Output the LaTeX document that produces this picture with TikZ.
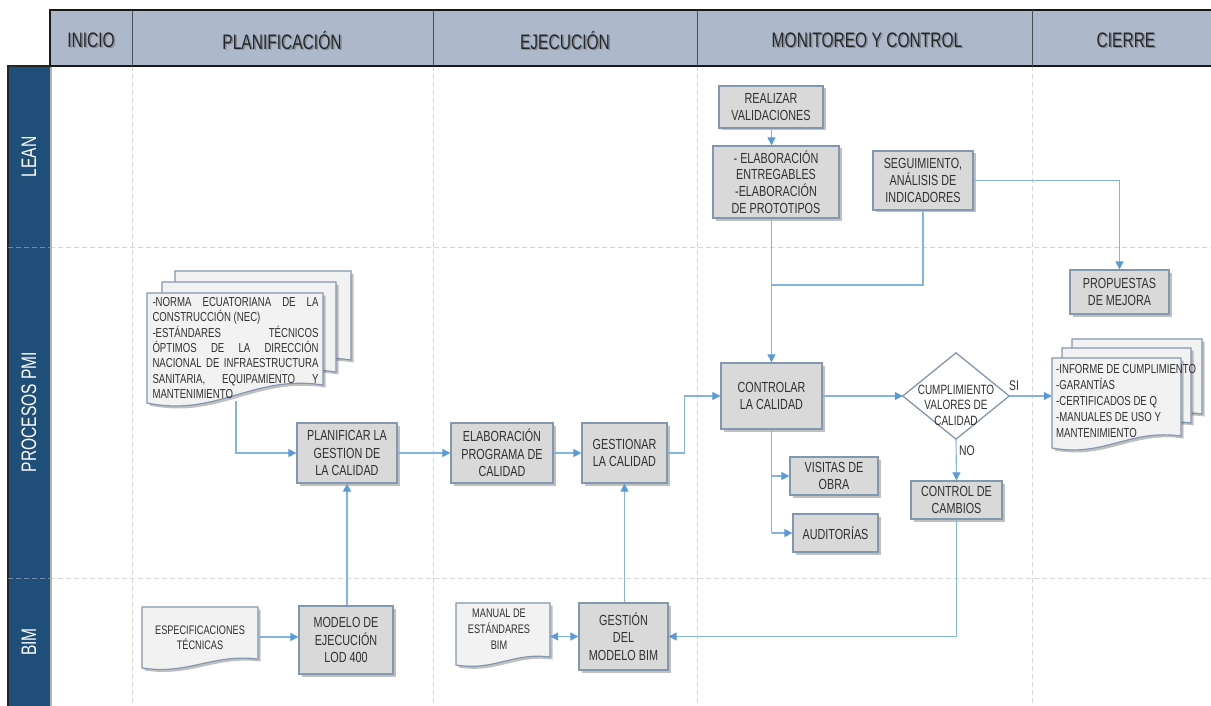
\documentclass[tikz,border=0pt]{standalone}
\usepackage{fontspec}
\setmainfont{Liberation Sans}[FakeStretch=0.74]
\usetikzlibrary{arrows.meta,shadows}

\definecolor{hdrfill}{HTML}{ADB9CA}
\definecolor{lanefill}{HTML}{1F4E79}
\definecolor{boxfill}{HTML}{D9D9D9}
\definecolor{boxedge}{HTML}{8497B0}
\definecolor{docfill}{HTML}{F2F2F2}
\definecolor{linkblue}{HTML}{86B4E2}
\definecolor{tipblue}{HTML}{5B9BD5}
\definecolor{gridgrey}{HTML}{D6D6D6}
\definecolor{inkgrey}{HTML}{303030}

\tikzset{
  boxshadow/.style={drop shadow={shadow xshift=2.5pt,shadow yshift=-2.5pt,opacity=0.35,fill=black!70}},
  procbox/.style={draw=boxedge,line width=1.3pt,fill=boxfill,boxshadow,align=center,
    inner sep=0pt,text=inkgrey,font=\fontsize{14.6}{17.5}\selectfont},
  docarea/.style={inner sep=0pt,draw=none},
  doctext/.style={align=left,inner sep=0pt,text=inkgrey,font=\fontsize{13}{15.3}\selectfont},
  link/.style={draw=linkblue,line width=1.1pt},
  flow/.style={link,-{Triangle[length=8pt,width=8pt,color=tipblue]}},
  twoway/.style={link,{Triangle[length=8pt,width=8pt,color=tipblue]}-{Triangle[length=8pt,width=8pt,color=tipblue]}},
  gridline/.style={draw=gridgrey,line width=1pt,dash pattern=on 5pt off 3pt},
  phase/.style={font=\fontsize{21}{24}\selectfont,text=black!85},
  phaseshade/.style={font=\fontsize{21}{24}\selectfont,text=black,opacity=0.25},
  lanelabel/.style={rotate=90,text=white,font=\fontsize{21}{24}\selectfont},
  smalllabel/.style={inner sep=0pt,text=inkgrey,font=\fontsize{14}{16}\selectfont},
}

% one sheet of a document symbol: left x, top y, right x, bottom-left y, wave height
\newcommand{\docpage}[5]{%
  \path[draw=boxedge,line width=1.2pt,fill=docfill,boxshadow]
    ({#1},{#2}) -- ({#3},{#2}) -- ({#3},{#4-#5})
    .. controls ({#1+0.6*(#3-#1)},{#4-1.6*#5}) and ({#1+0.4*(#3-#1)},{#4+0.8*#5}) .. ({#1},{#4})
    -- cycle;}

\begin{document}
\begin{tikzpicture}[x=1pt,y=-1pt]
\useasboundingbox (0,0) rectangle (1211,706);
\fill[white] (0,0) rectangle (1211,706);

% ---------- lane grid ----------
\foreach \gx in {132,433,697,1032} \draw[gridline] (\gx,66) -- (\gx,706);
\foreach \gy in {247,578} \draw[gridline] (50,\gy) -- (1211,\gy);

% lane title column
\fill[lanefill] (8,66) rectangle (50,706);
\draw[black!85,line width=1.2pt] (8,706) -- (8,66) -- (50,66);
\draw[black!30,line width=1.2pt] (51,66) -- (51,706);
\foreach \gy in {247,578} \draw[gridline,draw=white,opacity=0.35] (8,\gy) -- (50,\gy);
\node[lanelabel] (laneLean) at (29,157) {LEAN};
\node[lanelabel] (lanePmi) at (29,412) {PROCESOS PMI};
\node[lanelabel] (laneBim) at (29,642) {BIM};

% phase header
\fill[hdrfill] (50,10) rectangle (1215,66);
\draw[black!90,line width=1.2pt] (1215,10) -- (50,10) -- (50,66);
\draw[black!90,line width=1.6pt] (50,66) -- (1215,66);
\foreach \gx in {132,433,697,1032} \draw[black!70,line width=1pt] (\gx,10) -- (\gx,66);
\foreach \px/\pname/\ptext in {91/hInicio/INICIO,282/hPlan/PLANIFICACIÓN,565/hEjec/EJECUCIÓN,867/hMon/MONITOREO Y CONTROL,1126/hCierre/CIERRE}{
  \node[phaseshade] at (\px+1.5,41.5) {\ptext};
  \node[phase] (\pname) at (\px,40) {\ptext};
}

% ---------- documents ----------
\docpage{175}{271}{351}{378}{18}
\docpage{162}{282}{336}{390}{18}
\docpage{147}{293}{323}{403}{18}
\node[doctext] (norma) at (235.5,348) {%
  \makebox[166pt][s]{-NORMA\hfill ECUATORIANA\hfill DE\hfill LA}\\
  CONSTRUCCIÓN (NEC)\\
  \makebox[166pt][s]{-ESTÁNDARES\hfill TÉCNICOS}\\
  \makebox[166pt][s]{ÓPTIMOS\hfill DE\hfill LA\hfill DIRECCIÓN}\\
  \makebox[166pt][s]{NACIONAL\hfill DE\hfill INFRAESTRUCTURA}\\
  \makebox[166pt][s]{SANITARIA,\hfill EQUIPAMIENTO\hfill Y}\\
  MANTENIMIENTO};
\coordinate (normaout) at (236,401);

\docpage{1072}{339}{1202}{426}{12}
\docpage{1062}{348}{1191}{435}{12}
\docpage{1052}{358}{1181}{448}{12}
\node[docarea,minimum width=129,minimum height=78] (informe) at (1116.5,397) {};
\node[doctext,anchor=west,font=\fontsize{13}{16}\selectfont] (informetxt) at (1056,401) {%
  -INFORME DE CUMPLIMIENTO\\-GARANTÍAS\\-CERTIFICADOS DE Q\\-MANUALES DE USO Y\\MANTENIMIENTO};

\docpage{142}{607}{258}{668}{9}
\node[docarea,minimum width=116,minimum height=60] (espec) at (200,637) {};
\node[doctext,align=center,font=\fontsize{12.4}{15}\selectfont] (espectxt) at (200,638) {ESPECIFICACIONES\\TÉCNICAS};

\docpage{456}{603}{550}{665}{8}
\node[docarea,minimum width=94,minimum height=60] (manual) at (503,633) {};
\node[doctext,align=center,font=\fontsize{12.4}{16}\selectfont] (manualtxt) at (499,629) {MANUAL DE\\ESTÁNDARES\\BIM};

% ---------- process boxes ----------
\node[procbox,minimum width=104,minimum height=42] (rv) at (771,107) {REALIZAR\\VALIDACIONES};
\node[procbox,minimum width=126,minimum height=72,font=\fontsize{14.6}{16.7}\selectfont] (el) at (776,182) {- ELABORACIÓN\\ENTREGABLES\\-ELABORACIÓN\\DE PROTOTIPOS};
\node[procbox,minimum width=100,minimum height=59,font=\fontsize{14.6}{16.7}\selectfont] (seg) at (923,180.5) {SEGUIMIENTO,\\ANÁLISIS DE\\INDICADORES};
\node[procbox,minimum width=99,minimum height=44] (prop) at (1119.5,292) {PROPUESTAS\\DE MEJORA};

\node[procbox,minimum width=100,minimum height=60] (plan) at (347,453) {PLANIFICAR LA\\GESTION DE\\LA CALIDAD};
\node[procbox,minimum width=102,minimum height=60] (prog) at (502,453) {ELABORACIÓN\\PROGRAMA DE\\CALIDAD};
\node[procbox,minimum width=85,minimum height=60] (gest) at (624.5,453) {GESTIONAR\\LA CALIDAD};
\node[procbox,minimum width=101,minimum height=66] (ctrl) at (771.5,396) {CONTROLAR\\LA CALIDAD};
\node[procbox,minimum width=88,minimum height=38] (vis) at (834,476) {VISITAS DE\\OBRA};
\node[procbox,minimum width=85,minimum height=38] (aud) at (835.5,533) {AUDITORÍAS};
\node[procbox,minimum width=91,minimum height=38] (camb) at (956.5,500) {CONTROL DE\\CAMBIOS};

\node[procbox,minimum width=94,minimum height=68] (mod) at (346,640) {MODELO DE\\EJECUCIÓN\\LOD 400};
\node[procbox,minimum width=89,minimum height=67] (gbim) at (623.5,636.5) {GESTIÓN\\DEL\\MODELO BIM};

% decision
\node[docarea,minimum width=106,minimum height=86] (dec) at (956,396) {};
\draw[draw=boxedge,line width=1.3pt,fill=white] (dec.north) -- (dec.east) -- (dec.south) -- (dec.west) -- cycle;
\node[doctext,align=center,font=\fontsize{13.5}{15.5}\selectfont] (dectxt) at (956,405) {CUMPLIMIENTO\\VALORES DE\\CALIDAD};

% ---------- connectors ----------
\draw[flow] (rv.south -| ctrl.north) -- (el.north -| ctrl.north);
\draw[flow] (el.south -| ctrl.north) -- (ctrl.north);
\coordinate (leanjoin) at (ctrl.north |- 0,285);
\draw[link] (seg.south) |- (leanjoin);
\draw[flow] (seg.east) -| (prop.north);

\draw[flow] (normaout) |- (plan.west);
\draw[flow] (plan.east) -- (prog.west);
\draw[flow] (prog.east) -- (gest.west);
\draw[flow] (gest.east) -- ++(17,0) |- (ctrl.west);

\draw[link] (ctrl.south) -- (ctrl.south |- aud.west);
\draw[flow] (ctrl.south |- vis.west) -- (vis.west);
\draw[flow] (ctrl.south |- aud.west) -- (aud.west);

\draw[flow] (ctrl.east) -- (dec.west);
\draw[flow] (dec.east) -- (dec.east -| informe.west);
\node[smalllabel] (si) at (1014,386) {SI};
\draw[flow] (dec.south) -- (camb.north);
\node[smalllabel] (no) at (967,451) {NO};
\draw[flow] (camb.south) |- (gbim.east);

\draw[flow] (mod.north -| plan.south) -- (plan.south);
\draw[flow] (gbim.north -| gest.south) -- (gest.south);
\draw[flow] (espec.east) -- (espec.east -| mod.west);
\draw[twoway] (manual.east |- gbim.west) -- (gbim.west);

\end{tikzpicture}
\end{document}
